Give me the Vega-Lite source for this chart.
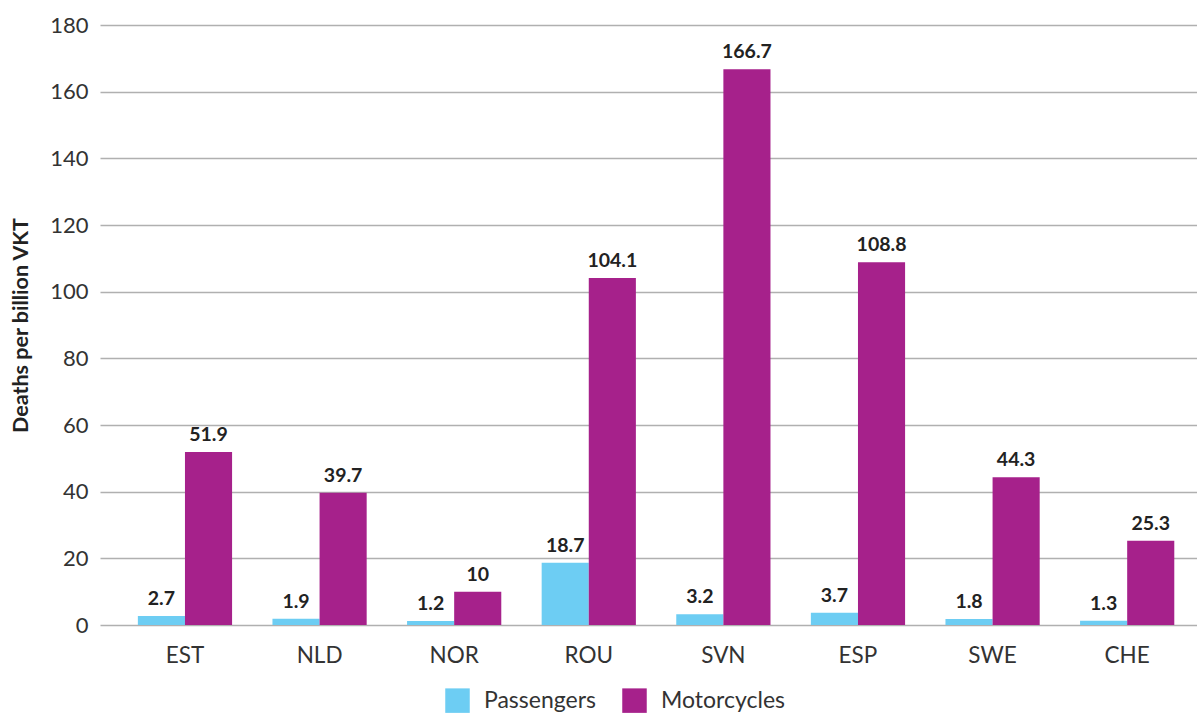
{
  "$schema": "https://vega.github.io/schema/vega-lite/v6.json",
  "autosize": "none",
  "width": 1097,
  "height": 600,
  "padding": {"left": 100, "top": 25, "right": 0, "bottom": 88},
  "background": "white",
  "config": {
    "font": "Lato",
    "view": {"stroke": null},
    "axis": {"labelFont": "Lato", "titleFont": "Lato"}
  },
  "data": {
    "values": [
      {"country": "EST", "mode": "Passengers", "value": 2.7},
      {"country": "EST", "mode": "Motorcycles", "value": 51.9},
      {"country": "NLD", "mode": "Passengers", "value": 1.9},
      {"country": "NLD", "mode": "Motorcycles", "value": 39.7},
      {"country": "NOR", "mode": "Passengers", "value": 1.2},
      {"country": "NOR", "mode": "Motorcycles", "value": 10},
      {"country": "ROU", "mode": "Passengers", "value": 18.7},
      {"country": "ROU", "mode": "Motorcycles", "value": 104.1},
      {"country": "SVN", "mode": "Passengers", "value": 3.2},
      {"country": "SVN", "mode": "Motorcycles", "value": 166.7},
      {"country": "ESP", "mode": "Passengers", "value": 3.7},
      {"country": "ESP", "mode": "Motorcycles", "value": 108.8},
      {"country": "SWE", "mode": "Passengers", "value": 1.8},
      {"country": "SWE", "mode": "Motorcycles", "value": 44.3},
      {"country": "CHE", "mode": "Passengers", "value": 1.3},
      {"country": "CHE", "mode": "Motorcycles", "value": 25.3}
    ]
  },
  "encoding": {
    "x": {
      "field": "country", "type": "nominal", "sort": null,
      "scale": {"paddingInner": 0.3, "paddingOuter": 0.225, "align": 0.625},
      "axis": {"title": null, "labelAngle": 0, "labelFontSize": 22.5, "labelColor": "#333333", "labelPadding": 19, "ticks": false, "domain": false}
    },
    "xOffset": {"field": "mode", "type": "nominal", "sort": ["Passengers", "Motorcycles"], "scale": {"paddingInner": 0, "paddingOuter": 0}},
    "y": {
      "field": "value", "type": "quantitative",
      "scale": {"domain": [0, 180]},
      "axis": {"title": "Deaths per billion VKT", "titleFontSize": 21.5, "titleFontWeight": "bold", "titleColor": "#222222", "titlePadding": 17,
               "values": [0,20,40,60,80,100,120,140,160,180], "labelFontSize": 22, "labelColor": "#333333", "labelPadding": 12,
               "ticks": false, "domain": false, "gridColor": "#b0b0b0", "gridWidth": 1.3, "gridOpacity": 1}
    }
  },
  "layer": [
    {
      "mark": {"type": "bar"},
      "encoding": {
        "color": {
          "field": "mode", "type": "nominal",
          "scale": {"domain": ["Passengers", "Motorcycles"], "range": ["#6dcdf3", "#a6218b"]},
          "legend": {"title": null, "orient": "none", "direction": "horizontal", "legendX": 345, "legendY": 663,
                     "symbolType": "square", "symbolSize": 600, "symbolStrokeWidth": 0, "labelFontSize": 23, "labelColor": "#333333",
                     "columnPadding": 26, "labelOffset": 14}
        }
      }
    },
    {
      "mark": {"type": "text", "baseline": "bottom", "dy": -7, "fontSize": 19.5, "fontWeight": "bold", "color": "#222222"},
      "encoding": {"text": {"field": "value", "type": "quantitative"}}
    }
  ]
}
